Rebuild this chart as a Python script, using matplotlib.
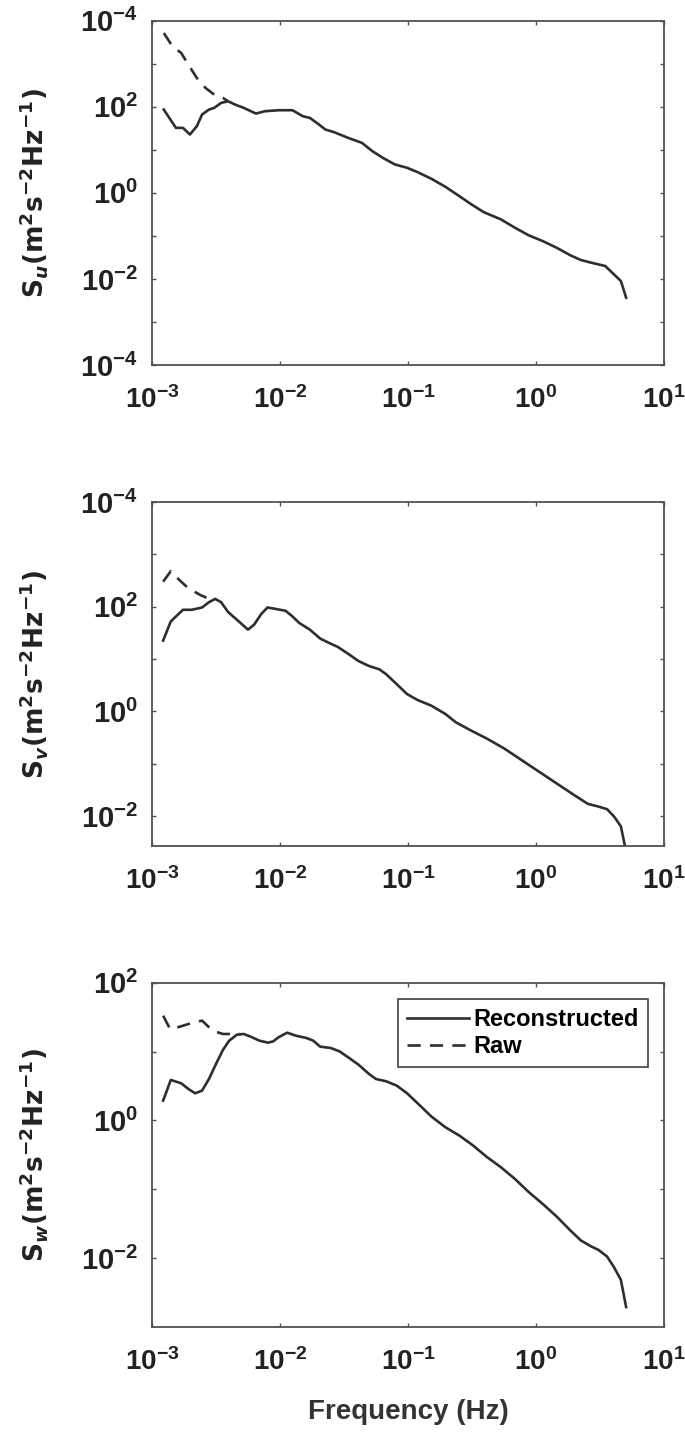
import matplotlib
matplotlib.use("Agg")
import matplotlib.pyplot as plt
import numpy as np
from matplotlib import font_manager as fm
from matplotlib.ticker import FixedLocator, FixedFormatter, NullLocator

# narrow face for tick labels and legend, if it is there
try:
    fm.findfont(fm.FontProperties(family='Liberation Sans Narrow', weight='bold'),
                fallback_to_default=False)
    narrow = 'Liberation Sans Narrow'
    xt_size, leg_size = 23, 20
except ValueError:
    narrow = 'Liberation Sans'
    xt_size, leg_size = 20, 17

plt.rcParams['mathtext.fontset'] = 'custom'
plt.rcParams['mathtext.default'] = 'regular'
plt.rcParams['mathtext.it'] = 'DejaVu Sans:italic:bold'
plt.rcParams['mathtext.rm'] = 'Liberation Sans:bold'
plt.rcParams['font.family'] = ['Liberation Sans', 'DejaVu Sans']
plt.rcParams['font.weight'] = 'bold'

# ---- data (log10 frequency, log10 PSD) ----
u_rec_f = [-2.908, -2.813, -2.758, -2.704, -2.650, -2.609, -2.555, -2.514, -2.460, -2.405,
           -2.351, -2.283, -2.188, -2.120, -2.012, -1.903, -1.821, -1.767, -1.713, -1.645,
           -1.577, -1.468, -1.360, -1.278, -1.197, -1.102, -1.007, -0.925, -0.817, -0.708,
           -0.599, -0.504, -0.409, -0.274, -0.165, -0.056, 0.052, 0.161, 0.269, 0.351,
           0.432, 0.541, 0.595, 0.663, 0.704]
u_rec_s = [1.935, 1.510, 1.510, 1.355, 1.548, 1.819, 1.935, 1.974, 2.090, 2.128,
           2.051, 1.974, 1.842, 1.896, 1.920, 1.920, 1.780, 1.742, 1.626, 1.471,
           1.409, 1.278, 1.162, 0.968, 0.814, 0.659, 0.582, 0.481, 0.326, 0.141,
           -0.076, -0.269, -0.447, -0.617, -0.810, -0.988, -1.120, -1.275, -1.452, -1.561,
           -1.623, -1.700, -1.855, -2.048, -2.435]
u_raw_f = [-2.908, -2.840, -2.772, -2.716, -2.650, -2.582, -2.514, -2.446, -2.405]
u_raw_s = [3.714, 3.404, 3.250, 2.979, 2.670, 2.438, 2.283, 2.206, 2.128]

v_rec_f = [-2.913, -2.853, -2.758, -2.690, -2.609, -2.555, -2.506, -2.460, -2.405, -2.337,
           -2.250, -2.202, -2.147, -2.098, -2.039, -1.957, -1.903, -1.849, -1.767, -1.686,
           -1.618, -1.550, -1.468, -1.387, -1.305, -1.224, -1.170, -1.088, -1.007, -0.925,
           -0.817, -0.708, -0.627, -0.518, -0.382, -0.246, -0.111, 0.025, 0.161, 0.297,
           0.405, 0.487, 0.555, 0.609, 0.663, 0.710]
v_rec_s = [1.352, 1.719, 1.940, 1.940, 1.984, 2.085, 2.148, 2.085, 1.896, 1.750,
           1.561, 1.656, 1.858, 1.984, 1.959, 1.921, 1.814, 1.687, 1.561, 1.390,
           1.308, 1.232, 1.100, 0.961, 0.866, 0.803, 0.708, 0.518, 0.329, 0.215,
           0.107, -0.051, -0.209, -0.354, -0.524, -0.714, -0.935, -1.156, -1.378, -1.599,
           -1.769, -1.820, -1.870, -2.009, -2.199, -2.750]
v_raw_f = [-2.913, -2.853, -2.786, -2.716, -2.623, -2.555, -2.506]
v_raw_s = [2.477, 2.679, 2.509, 2.351, 2.224, 2.148, 2.148]

w_rec_f = [-2.913, -2.853, -2.772, -2.716, -2.663, -2.609, -2.555, -2.500, -2.446, -2.397,
           -2.337, -2.283, -2.229, -2.161, -2.093, -2.052, -2.012, -1.944, -1.876, -1.794,
           -1.740, -1.686, -1.604, -1.536, -1.468, -1.387, -1.305, -1.251, -1.170, -1.088,
           -1.007, -0.925, -0.817, -0.708, -0.599, -0.491, -0.382, -0.274, -0.165, -0.056,
           0.052, 0.161, 0.269, 0.351, 0.432, 0.487, 0.555, 0.609, 0.663, 0.704]
w_rec_s = [0.288, 0.588, 0.539, 0.457, 0.394, 0.433, 0.602, 0.820, 1.023, 1.158,
           1.245, 1.255, 1.216, 1.158, 1.129, 1.149, 1.207, 1.274, 1.231, 1.197,
           1.158, 1.071, 1.052, 1.004, 0.917, 0.810, 0.675, 0.602, 0.568, 0.505,
           0.394, 0.249, 0.056, -0.099, -0.220, -0.365, -0.534, -0.680, -0.849, -1.042,
           -1.212, -1.395, -1.599, -1.744, -1.831, -1.879, -1.976, -2.131, -2.314, -2.711]
w_raw_f = [-2.913, -2.859, -2.799, -2.716, -2.609, -2.527, -2.446, -2.378, -2.310]
w_raw_s = [1.521, 1.328, 1.352, 1.400, 1.449, 1.304, 1.255, 1.255, 1.255]

panels = [
    ('u', u_rec_f, u_rec_s, u_raw_f, u_raw_s, (-4, 4),
     [-4, -3, -2, -1, 0, 1, 2, 3, 4],
     [r'$10^{-4}$', '', r'$10^{-2}$', '', r'$10^{0}$', '', r'$10^{2}$', '', r'$10^{-4}$']),
    ('v', v_rec_f, v_rec_s, v_raw_f, v_raw_s, (-2.58, 4),
     [-2, -1, 0, 1, 2, 3, 4],
     [r'$10^{-2}$', '', r'$10^{0}$', '', r'$10^{2}$', '', r'$10^{-4}$']),
    ('w', w_rec_f, w_rec_s, w_raw_f, w_raw_s, (-3, 2),
     [-2, -1, 0, 1, 2],
     [r'$10^{-2}$', '', r'$10^{0}$', '', r'$10^{2}$']),
]
xtick_exp = [-3, -2, -1, 0, 1]
xtick_lab = [r'$10^{-3}$', r'$10^{-2}$', r'$10^{-1}$', r'$10^{0}$', r'$10^{1}$']

W, H = 685, 1432
fig = plt.figure(figsize=(W / 100, H / 100), dpi=100)
tops = [20.7, 502.0, 982.7]
ax_h = 344.3
line_c = '#2e2e2e'
spine_c = '#505050'

for i, (comp, rf, rs, wf, ws, ylim, yt, yl) in enumerate(panels):
    ax = fig.add_axes([152 / W, 1 - (tops[i] + ax_h) / H, 512 / W, ax_h / H])
    ax.plot(10 ** np.array(wf), 10 ** np.array(ws), color=line_c, lw=1.9,
            ls=(0, (5, 3.5)), label='Raw')
    ax.plot(10 ** np.array(rf), 10 ** np.array(rs), color=line_c, lw=1.9,
            label='Reconstructed')
    ax.set_xscale('log')
    ax.set_yscale('log')
    ax.set_xlim(1e-3, 1e1)
    ax.set_ylim(10 ** ylim[0], 10 ** ylim[1])

    ax.xaxis.set_major_locator(FixedLocator([10.0 ** e for e in xtick_exp]))
    ax.xaxis.set_major_formatter(FixedFormatter(xtick_lab))
    ax.xaxis.set_minor_locator(NullLocator())
    ax.yaxis.set_major_locator(FixedLocator([10.0 ** e for e in yt]))
    ax.yaxis.set_major_formatter(FixedFormatter(yl))
    ax.yaxis.set_minor_locator(NullLocator())

    ax.tick_params(axis='both', direction='in', length=3, width=1, color=spine_c,
                   top=True, right=True)
    ax.tick_params(axis='x', pad=15)
    ax.tick_params(axis='y', pad=10)
    for t in ax.get_xticklabels():
        t.set_fontfamily(narrow)
        t.set_fontsize(xt_size)
        t.set_fontweight('bold')
        t.set_color('#222222')
    for t in ax.get_yticklabels():
        t.set_fontfamily('Liberation Sans')
        t.set_fontsize(21)
        t.set_fontweight('bold')
        t.set_color('#222222')
    for s in ax.spines.values():
        s.set_color(spine_c)
        s.set_linewidth(1.3)

    ax.set_ylabel(r'S$_{\mathit{%s}}$(m$^{2}$s$^{-2}$Hz$^{-1}$)' % comp,
                  fontfamily='DejaVu Sans', fontsize=19, fontweight='bold',
                  color='#222222')
    ax.yaxis.set_label_coords(-0.2, 0.5)

    if comp == 'w':
        ax.set_xlabel('Frequency (Hz)', fontfamily='Liberation Sans', fontsize=20,
                      fontweight='bold', color='#333333')
        ax.xaxis.set_label_coords(0.5, -0.21)
        h, lab = ax.get_legend_handles_labels()
        leg = ax.legend(h[::-1], lab[::-1], loc='upper right',
                        bbox_to_anchor=(0.9693, 0.9526), borderaxespad=0,
                        prop={'family': narrow, 'size': leg_size, 'weight': 'bold'},
                        handlelength=2.6, handletextpad=0.2, borderpad=0.4,
                        labelspacing=0.15, fancybox=False, framealpha=1,
                        edgecolor='#404040')
        leg.get_frame().set_linewidth(1.2)

fig.savefig('out.png', dpi=100)
